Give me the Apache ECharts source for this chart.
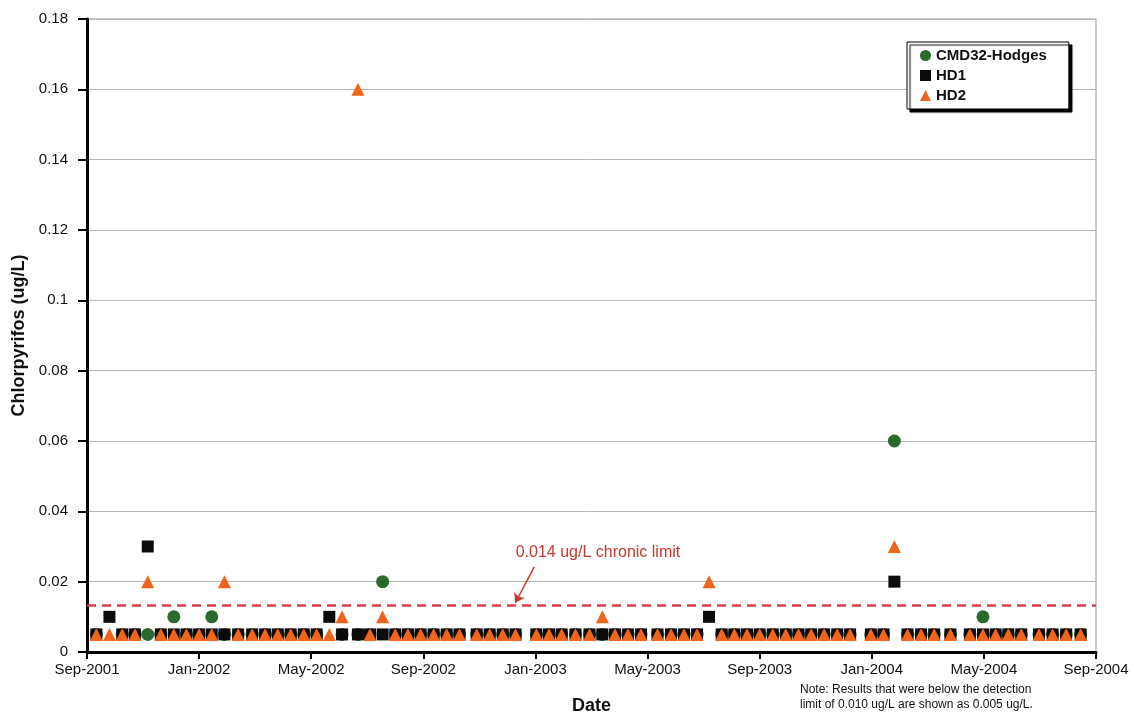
<!DOCTYPE html>
<html><head><meta charset="utf-8">
<script src="https://cdn.jsdelivr.net/npm/echarts@6/dist/echarts.min.js"></script>
<style>html,body{margin:0;padding:0;background:#fff}#c{width:1134px;height:728px}</style>
</head><body><div id="c"></div>
<script>
// ---- data ----
const tickLabels = ['Sep-2001','Jan-2002','May-2002','Sep-2002','Jan-2003','May-2003','Sep-2003','Jan-2004','May-2004','Sep-2004'];
const seriesNames = ['CMD32-Hodges','HD1','HD2'];
const sampleDates = [
'2001-09-11','2001-09-25','2001-10-09','2001-10-23','2001-11-06','2001-11-20','2001-12-04','2001-12-18','2002-01-01','2002-01-15',
'2002-01-29','2002-02-12','2002-02-26','2002-03-12','2002-03-26','2002-04-09','2002-04-23','2002-05-07','2002-05-21','2002-06-04',
'2002-06-21','2002-07-04','2002-07-18','2002-08-01','2002-08-15','2002-08-29','2002-09-12','2002-09-26','2002-10-10','2002-10-29',
'2002-11-12','2002-11-26','2002-12-10','2003-01-02','2003-01-16','2003-01-30','2003-02-13','2003-02-27','2003-03-13','2003-03-27',
'2003-04-10','2003-04-24','2003-05-12','2003-05-27','2003-06-10','2003-06-24','2003-07-07','2003-07-21','2003-08-04','2003-08-18',
'2003-09-01','2003-09-15','2003-09-29','2003-10-13','2003-10-27','2003-11-10','2003-11-24','2003-12-08','2003-12-31','2004-01-14',
'2004-01-26','2004-02-09','2004-02-23','2004-03-08','2004-03-26','2004-04-16','2004-04-30','2004-05-14','2004-05-28','2004-06-11',
'2004-06-30','2004-07-15','2004-07-30','2004-08-15'
];
const cmd32 = [
0.005,null,0.005,0.005,0.005,0.005,0.01,0.005,0.005,0.01,
0.005,0.005,0.005,0.005,0.005,0.005,0.005,0.005,null,0.005,
0.005,0.005,0.02,0.005,0.005,0.005,0.005,0.005,0.005,0.005,
0.005,0.005,0.005,0.005,0.005,0.005,0.005,0.005,0.005,0.005,
0.005,0.005,0.005,0.005,0.005,0.005,null,0.005,0.005,0.005,
0.005,0.005,0.005,0.005,0.005,0.005,0.005,0.005,0.005,0.005,
0.06,0.005,0.005,0.005,0.005,0.005,0.01,0.005,0.005,0.005,
0.005,0.005,0.005,0.005
];
const hd1 = [
0.005,0.01,0.005,0.005,0.03,0.005,0.005,0.005,0.005,0.005,
0.005,0.005,0.005,0.005,0.005,0.005,0.005,0.005,0.01,0.005,
0.005,0.005,0.005,0.005,0.005,0.005,0.005,0.005,0.005,0.005,
0.005,0.005,0.005,0.005,0.005,0.005,0.005,0.005,0.005,0.005,
0.005,0.005,0.005,0.005,0.005,0.005,0.01,0.005,0.005,0.005,
0.005,0.005,0.005,0.005,0.005,0.005,0.005,0.005,0.005,0.005,
0.02,0.005,0.005,0.005,0.005,0.005,0.005,0.005,0.005,0.005,
0.005,0.005,0.005,0.005
];
const hd2 = [
0.005,0.005,0.005,0.005,0.02,0.005,0.005,0.005,0.005,0.005,
0.02,0.005,0.005,0.005,0.005,0.005,0.005,0.005,0.005,0.01,
0.16,0.005,0.01,0.005,0.005,0.005,0.005,0.005,0.005,0.005,
0.005,0.005,0.005,0.005,0.005,0.005,0.005,0.005,0.01,0.005,
0.005,0.005,0.005,0.005,0.005,0.005,0.02,0.005,0.005,0.005,
0.005,0.005,0.005,0.005,0.005,0.005,0.005,0.005,0.005,0.005,
0.03,0.005,0.005,0.005,0.005,0.005,0.005,0.005,0.005,0.005,
0.005,0.005,0.005,0.005
];
const chronicLimit = 0.0134;
const chronicText = '0.014 ug/L chronic limit';
const noteText = 'Note: Results that were below the detection\nlimit of 0.010 ug/L are shown as 0.005 ug/L.';

// ---- helpers ----
function toMonths(s){
  const [y,m,d] = s.split('-').map(Number);
  const dim = new Date(y, m, 0).getDate();
  return (y-2001)*12 + (m-9) + (d-1)/dim;
}
function pairs(vals){
  return sampleDates.map((d,i)=>[toMonths(d), vals[i]]).filter(p=>p[1]!=null);
}
const FF = '"Liberation Sans", Arial, sans-serif';

const chart = echarts.init(document.getElementById('c'), null, {renderer:'canvas'});
const option = {
  animation:false,
  backgroundColor:'#fff',
  textStyle:{fontFamily:FF},
  grid:{left:87, right:38, top:19, bottom:76, show:true, borderColor:'#9a9a9a', borderWidth:1, backgroundColor:'transparent'},
  xAxis:{
    type:'value', min:0, max:36, interval:4,
    axisLine:{show:true, onZero:false, lineStyle:{color:'#000', width:3}},
    axisTick:{show:true, length:7, lineStyle:{color:'#000', width:2}},
    splitLine:{show:false},
    axisLabel:{formatter:v=>tickLabels[Math.round(v/4)], fontSize:15, color:'#111', margin:10, fontFamily:FF},
    name:'Date', nameLocation:'middle', nameGap:45,
    nameTextStyle:{fontSize:18, fontWeight:'bold', color:'#111', fontFamily:FF}
  },
  yAxis:{
    type:'value', min:0, max:0.18, interval:0.02,
    axisLine:{show:true, lineStyle:{color:'#000', width:3}},
    axisTick:{show:true, length:9, lineStyle:{color:'#000', width:2}},
    splitLine:{show:true, lineStyle:{color:'#b5b5b5', width:1}},
    axisLabel:{fontSize:15, color:'#111', margin:19, fontFamily:FF},
    name:'Chlorpyrifos (ug/L)', nameLocation:'middle', nameGap:58,
    nameTextStyle:{fontSize:18, fontWeight:'bold', color:'#111', fontFamily:FF}
  },
  legend:{
    orient:'vertical', left:907, top:42,
    data:seriesNames,
    itemWidth:11, itemHeight:11, itemGap:5,
    padding:[6,22,6,13],
    backgroundColor:'#fff', borderColor:'#000', borderWidth:1,
    shadowColor:'#000', shadowOffsetX:3, shadowOffsetY:3, shadowBlur:1,
    textStyle:{fontSize:15, fontWeight:'bold', color:'#111', fontFamily:FF}
  },
  series:[
    {name:seriesNames[0], type:'scatter', symbol:'circle', symbolSize:13, itemStyle:{color:'#2a6a2d', opacity:1}, data:pairs(cmd32), z:2},
    {name:seriesNames[1], type:'scatter', symbol:'rect', symbolSize:12, itemStyle:{color:'#0b0b0b', opacity:1}, data:pairs(hd1), z:3},
    {name:seriesNames[2], type:'scatter', symbol:'triangle', symbolSize:13, itemStyle:{color:'#f0641c', opacity:1}, data:pairs(hd2), z:4},
    {name:'limit', type:'line', data:[], z:5,
      markLine:{
        silent:true, symbol:['none','none'], precision:5,
        label:{show:false},
        data:[
          {yAxis:chronicLimit, lineStyle:{color:'#dc3c4a', width:2.5, type:[9,6]}},
          [{coord:[15.96,0.0242], symbol:'none', lineStyle:{color:'#c8372d', width:1.5, type:'solid'}},
           {coord:[15.28,0.0140], symbol:'arrow', symbolSize:9}]
        ]
      }
    }
  ]
};
chart.setOption(option);
const tp = chart.convertToPixel({gridIndex:0}, [18.23, 0.0282]);
chart.setOption({
  graphic:[
    {type:'text', x:tp[0], y:tp[1], style:{text:chronicText, fill:'#c8372d', font:'16px '+FF, textAlign:'center', textVerticalAlign:'middle'}},
    {type:'text', left:800, top:682, style:{text:noteText, fill:'#111', font:'12px '+FF, lineHeight:15}}
  ]
});
</script>
</body></html>
